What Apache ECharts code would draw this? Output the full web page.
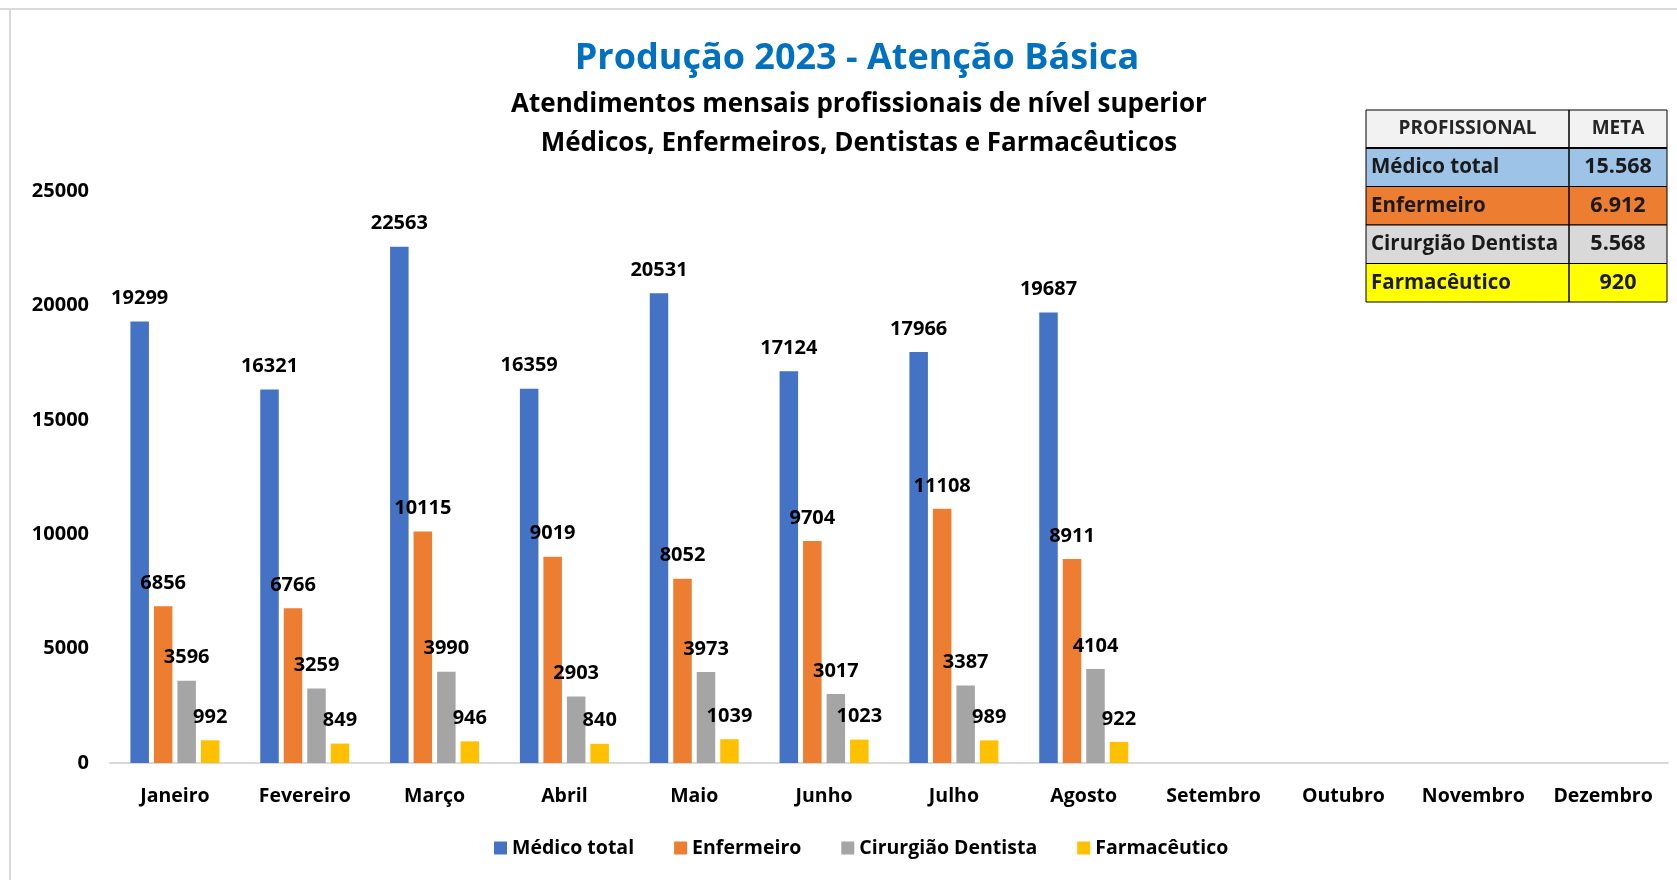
<!DOCTYPE html>
<html>
<head>
    <meta charset="utf-8">
    <style>
        html, body {
            width: 100%;
            height: 100%;
            margin: 0;
            background: #ffffff;
        }

        #chart-panel {
            width: 1677px;
            height: 880px;
        }
    </style>
    <script src="https://cdn.jsdelivr.net/npm/echarts@6/dist/echarts.min.js"></script>
</head>
<body>
<div id="chart-panel"></div>
<script type="text/javascript">
  // months
  var months = ['Janeiro', 'Fevereiro', 'Março', 'Abril', 'Maio', 'Junho',
    'Julho', 'Agosto', 'Setembro', 'Outubro', 'Novembro', 'Dezembro']

  // atendimentos por profissional (jan - ago)
  var medico = [19299, 16321, 22563, 16359, 20531, 17124, 17966, 19687]
  var enfermeiro = [6856, 6766, 10115, 9019, 8052, 9704, 11108, 8911]
  var dentista = [3596, 3259, 3990, 2903, 3973, 3017, 3387, 4104]
  var farmaceutico = [992, 849, 946, 840, 1039, 1023, 989, 922]

  var seriesNames = ['Médico total', 'Enfermeiro', 'Cirurgião Dentista', 'Farmacêutico']
  var seriesColors = ['#4472C4', '#ED7D31', '#A5A5A5', '#FFC000']

  // tabela de metas
  var metaNames = ['Médico total', 'Enfermeiro', 'Cirurgião Dentista', 'Farmacêutico']
  var metaValues = ['15.568', '6.912', '5.568', '920']
  var metaColors = ['#9DC3E6', '#ED7D31', '#D9D9D9', '#FFFF00']

  var FONT = '"Open Sans", "Noto Sans", sans-serif'

  // builds the META table as graphic elements
  function buildTable() {
    var x0 = 1366, x1 = 1569, x2 = 1667
    var top = 110, headH = 38, rowH = 38.5
    var els = []
    var rows = [{name: 'PROFISSIONAL', meta: 'META', bg: '#F2F2F2', head: true}]
    metaNames.forEach(function (n, i) {
      rows.push({name: n, meta: metaValues[i], bg: metaColors[i]})
    })
    var y = top
    rows.forEach(function (r, i) {
      var h = i === 0 ? headH : rowH
      els.push({
        type: 'rect',
        shape: {x: x0, y: y, width: x2 - x0, height: h},
        style: {fill: r.bg, stroke: '#000', lineWidth: 1}
      })
      els.push({
        type: 'line',
        shape: {x1: x1, y1: y, x2: x1, y2: y + h},
        style: {stroke: '#000', lineWidth: 1.5}
      })
      els.push({
        type: 'text',
        x: r.head ? (x0 + x1) / 2 : x0 + 5,
        y: y + h / 2,
        style: {
          text: r.name,
          fill: r.head ? '#262626' : '#1a1a1a',
          font: 'bold ' + (r.head ? 19 : 20.5) + 'px ' + FONT,
          align: r.head ? 'center' : 'left',
          verticalAlign: 'middle'
        }
      })
      els.push({
        type: 'text',
        x: (x1 + x2) / 2,
        y: y + h / 2,
        style: {
          text: r.meta,
          fill: r.head ? '#262626' : '#1a1a1a',
          font: 'bold ' + (r.head ? 19 : 21.5) + 'px ' + FONT,
          align: 'center',
          verticalAlign: 'middle'
        }
      })
      y += h
    })
    // thicker separator under header
    els.push({
      type: 'line',
      shape: {x1: x0, y1: top + headH, x2: x2, y2: top + headH},
      style: {stroke: '#000', lineWidth: 2}
    })
    return els
  }

  var myChart = echarts.init(document.getElementById('chart-panel'))

  var seriesData = [medico, enfermeiro, dentista, farmaceutico]

  var option = {
    animation: false,
    color: seriesColors,
    title: [
      {
        text: 'Produção 2023 - Atenção Básica',
        left: 852,
        top: 36,
        textAlign: 'center',
        textStyle: {fontFamily: FONT, fontSize: 36, fontWeight: 'bold', color: '#0070C0'}
      },
      {
        text: 'Atendimentos mensais profissionais de nível superior\nMédicos, Enfermeiros, Dentistas e Farmacêuticos',
        left: 854,
        top: 80,
        textAlign: 'center',
        textStyle: {fontFamily: FONT, fontSize: 26, fontWeight: 'bold', color: '#000', lineHeight: 39}
      }
    ],
    legend: {
      bottom: 17,
      left: 489,
      itemWidth: 13,
      itemHeight: 13,
      itemGap: 40,
      icon: 'rect',
      textStyle: {fontFamily: FONT, fontSize: 19.5, fontWeight: 'bold', color: '#000'},
      data: seriesNames
    },
    grid: {
      left: 110,
      right: 9,
      top: 191,
      bottom: 117,
      containLabel: false
    },
    xAxis: {
      type: 'category',
      data: months,
      axisLine: {lineStyle: {color: '#D9D9D9', width: 2}},
      axisTick: {show: false},
      axisLabel: {
        margin: 23,
        interval: 0,
        fontFamily: FONT,
        fontSize: 19.5,
        fontWeight: 'bold',
        color: '#000'
      }
    },
    yAxis: {
      type: 'value',
      min: 0,
      max: 25000,
      interval: 5000,
      splitLine: {show: false},
      axisLine: {show: false},
      axisTick: {show: false},
      axisLabel: {
        margin: 21,
        formatter: function (v) { return String(v) },
        fontFamily: FONT,
        fontSize: 20,
        fontWeight: 'bold',
        color: '#000'
      }
    },
    series: seriesNames.map(function (name, i) {
      return {
        name: name,
        type: 'bar',
        data: seriesData[i],
        barWidth: 18.5,
        barGap: '27%',
        label: {
          show: true,
          position: 'top',
          distance: 13,
          fontFamily: FONT,
          fontSize: 20,
          fontWeight: 'bold',
          color: '#000'
        }
      }
    }),
    graphic: [
      {
        type: 'line',
        shape: {x1: 0, y1: 9, x2: 1677, y2: 9},
        style: {stroke: '#D9D9D9', lineWidth: 2}
      },
      {
        type: 'line',
        shape: {x1: 10, y1: 9, x2: 10, y2: 880},
        style: {stroke: '#D9D9D9', lineWidth: 2}
      }
    ].concat(buildTable())
  }

  myChart.setOption(option)
</script>
</body>
</html>
